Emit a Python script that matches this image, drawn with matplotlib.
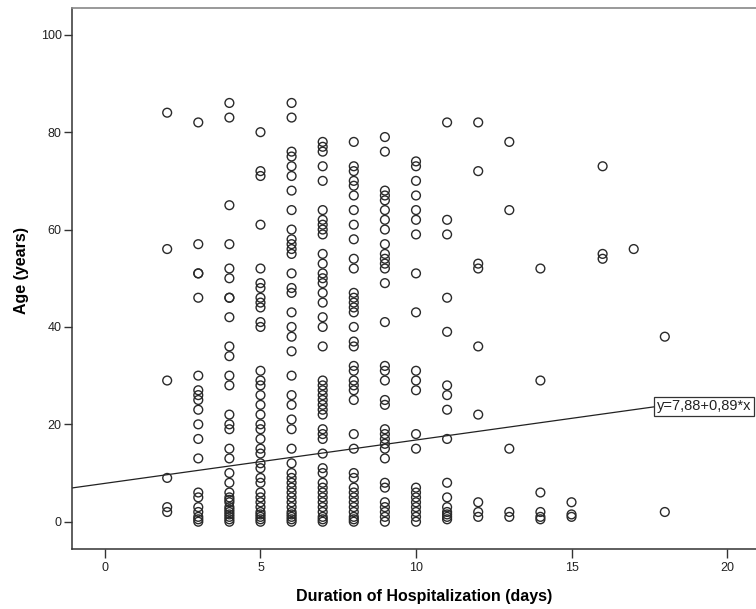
import matplotlib
matplotlib.use("Agg")
import matplotlib.pyplot as plt

plt.rcParams['font.family'] = ['Liberation Sans', 'DejaVu Sans']

# Ages (years) observed at each duration of hospitalization (days)
durations = [2, 3, 4, 5, 6, 7, 8, 9, 10, 11, 12, 13, 14, 15, 16, 17, 18]
ages_d2 = [84, 56, 29, 9, 3, 2]
ages_d3 = [82, 57, 51, 51, 46, 30, 27, 26, 25, 23, 20, 17, 13, 6, 5, 3, 2, 1, 0.5, 0]
ages_d4 = [86, 83, 65, 57, 52, 50, 46, 46, 42, 36, 34, 30, 28, 22, 20, 19, 15, 13, 10, 8,
           6, 5, 4.5, 4, 3, 2.5, 2, 1.5, 1, 0.5, 0]
ages_d5 = [80, 72, 71, 61, 52, 49, 48, 46, 45, 44, 41, 40, 31, 29, 28, 26, 24, 22, 20, 19,
           17, 15, 14, 12, 11, 9, 8, 6, 5, 4, 3, 2, 1.5, 1, 0.5, 0]
ages_d6 = [86, 83, 76, 75, 73, 71, 68, 64, 60, 58, 57, 56, 55, 51, 48, 47, 43, 40, 38, 35,
           30, 26, 24, 21, 19, 15, 12, 10, 9, 8, 7, 6, 5, 4, 3, 2, 1.5, 1, 0.5, 0]
ages_d7 = [78, 77, 76, 73, 70, 64, 62, 61, 60, 59, 55, 53, 51, 50, 49, 47, 45, 42, 40, 36,
           29, 28, 27, 26, 25, 24, 23, 22, 19, 18, 17, 14, 11, 10, 8, 7, 6, 5, 4, 3, 2, 1, 0.5, 0]
ages_d8 = [78, 73, 72, 70, 69, 67, 64, 61, 58, 54, 52, 47, 46, 45, 44, 43, 40, 37, 36, 32,
           31, 29, 28, 27, 25, 18, 15, 10, 9, 7, 6, 5, 4, 3, 2, 1, 0.5, 0]
ages_d9 = [79, 76, 68, 67, 66, 64, 62, 60, 57, 55, 54, 53, 52, 49, 41, 32, 31, 29, 25, 24,
           19, 18, 17, 16, 15, 13, 8, 7, 4, 3, 2, 1, 0]
ages_d10 = [74, 73, 70, 67, 64, 62, 59, 51, 43, 31, 29, 27, 18, 15, 7, 6, 5, 4, 3, 2, 1, 0]
ages_d11 = [82, 62, 59, 46, 39, 28, 26, 23, 17, 8, 5, 3, 2, 1.5, 1, 0.5]
ages_d12 = [82, 72, 53, 52, 36, 22, 4, 2, 1]
ages_d13 = [78, 64, 15, 2, 1]
ages_d14 = [52, 29, 6, 2, 1, 0.5]
ages_d15 = [4, 1.5, 1]
ages_d16 = [73, 55, 54]
ages_d17 = [56]
ages_d18 = [38, 2]

ages_by_duration = [ages_d2, ages_d3, ages_d4, ages_d5, ages_d6, ages_d7, ages_d8, ages_d9,
                    ages_d10, ages_d11, ages_d12, ages_d13, ages_d14, ages_d15, ages_d16,
                    ages_d17, ages_d18]

intercept = 7.88
slope = 0.89
fit_label = "y=7,88+0,89*x"

x_ticks = [0, 5, 10, 15, 20]
y_ticks = [0, 20, 40, 60, 80, 100]

xs, ys = [], []
for d, ages in zip(durations, ages_by_duration):
    xs.extend([d] * len(ages))
    ys.extend(ages)

fig = plt.figure(figsize=(7.56, 6.09), dpi=100)
ax = fig.add_axes([72 / 756, 60 / 609, 688 / 756, 541 / 609])

ax.scatter(xs, ys, s=40, facecolors='none', edgecolors='#2a2a2a', linewidths=1.0, zorder=3)

xmin, xmax = -1.06, 21.06
x_end = 17.75
ax.plot([xmin, x_end], [intercept + slope * xmin, intercept + slope * x_end],
        color='#222222', linewidth=0.9, zorder=2)
ax.text(x_end, intercept + slope * x_end, fit_label, ha='left', va='center',
        fontsize=10.5, color='#222222',
        bbox=dict(boxstyle='square,pad=0.2', facecolor='white', edgecolor='#333333', linewidth=0.9),
        zorder=4)

ax.set_xlim(xmin, xmax)
ax.set_ylim(-5.6, 105.5)
ax.set_xticks(x_ticks)
ax.set_yticks(y_ticks)
ax.tick_params(axis='both', direction='out', width=1, colors='#333333',
               labelsize=9, labelcolor='#222222')
ax.tick_params(axis='y', length=5.5, pad=2)
ax.tick_params(axis='x', length=6.5, pad=3)

for side in ['left', 'bottom']:
    ax.spines[side].set_color('#333333')
    ax.spines[side].set_linewidth(1.1)
ax.spines['top'].set_color('#888888')
ax.spines['top'].set_linewidth(1.2)
ax.spines['right'].set_visible(False)

ax.set_xlabel('Duration of Hospitalization (days)', fontsize=11.5, fontweight='bold')
ax.set_ylabel('Age (years)', fontsize=11.5, fontweight='bold')
ax.xaxis.set_label_coords(0.512, -0.0887)
ax.xaxis.label.set_va('center')
ax.yaxis.set_label_coords(-0.0727, 0.514)
ax.yaxis.label.set_va('center')

fig.savefig('out.png', dpi=100)
